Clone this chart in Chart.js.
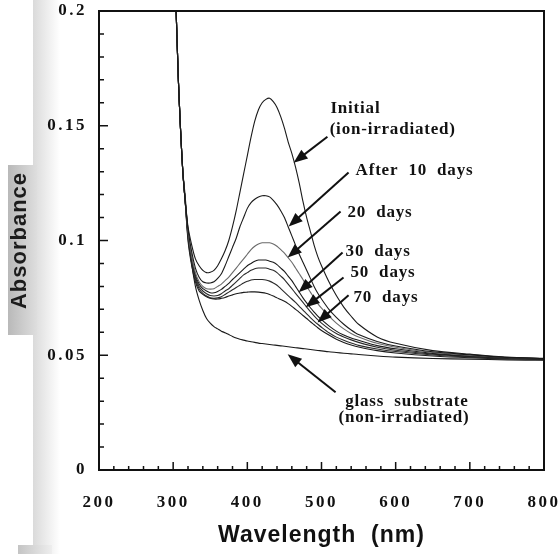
<!DOCTYPE html>
<html><head><meta charset="utf-8">
<script src="https://cdn.jsdelivr.net/npm/chart.js@4"></script>
<style>html,body{margin:0;padding:0;background:#fff;}</style>
</head><body>
<canvas id="c" width="559" height="554"></canvas>
<script>
// ---- data ----
const wavelengths = [302,304,307,310,313,316,320,325,330,335,340,345,350,355,360,365,370,375,380,385,390,395,400,405,410,415,420,425,430,435,440,445,450,455,460,465,470,475,480,485,490,495,500,510,520,530,540,550,575,600,650,700,750,800];

const initialAbs = [0.215,0.2,0.17,0.148,0.13,0.118,0.106,0.098,0.092,0.089,0.087,0.086,0.0862,0.087,0.089,0.092,0.0955,0.100,0.106,0.113,0.121,0.129,0.137,0.145,0.152,0.157,0.160,0.1615,0.162,0.1605,0.158,0.154,0.149,0.143,0.138,0.132,0.125,0.117,0.110,0.104,0.098,0.093,0.089,0.082,0.076,0.071,0.067,0.0635,0.058,0.0552,0.052,0.0505,0.0492,0.0487];
const days10Abs = [0.215,0.2,0.17,0.148,0.13,0.118,0.105,0.095,0.088,0.084,0.082,0.0815,0.0815,0.082,0.0835,0.0855,0.089,0.093,0.097,0.101,0.106,0.110,0.114,0.1165,0.118,0.119,0.1195,0.1195,0.119,0.1175,0.1155,0.113,0.110,0.106,0.102,0.098,0.094,0.0905,0.087,0.0835,0.080,0.077,0.0745,0.070,0.0665,0.0635,0.061,0.059,0.056,0.054,0.0515,0.0502,0.049,0.0486];
const days20Abs = [0.215,0.2,0.17,0.148,0.13,0.118,0.104,0.093,0.086,0.082,0.080,0.079,0.0788,0.079,0.080,0.081,0.0825,0.084,0.086,0.088,0.090,0.092,0.094,0.096,0.0975,0.0985,0.099,0.099,0.099,0.0985,0.0975,0.096,0.0945,0.0925,0.0905,0.088,0.0855,0.083,0.080,0.0775,0.075,0.0725,0.0705,0.067,0.064,0.0615,0.0595,0.058,0.0552,0.0535,0.0512,0.050,0.049,0.0486];
const days30Abs = [0.215,0.2,0.17,0.148,0.13,0.118,0.103,0.092,0.085,0.081,0.079,0.078,0.0772,0.0772,0.0778,0.0787,0.080,0.0813,0.083,0.0845,0.086,0.0875,0.089,0.090,0.091,0.0915,0.0915,0.0915,0.091,0.0905,0.0895,0.088,0.0865,0.0845,0.0825,0.080,0.0775,0.075,0.0728,0.0707,0.0688,0.067,0.0655,0.0628,0.0605,0.0588,0.0575,0.0565,0.0542,0.0528,0.0508,0.0497,0.0489,0.0485];
const days50Abs = [0.215,0.2,0.17,0.148,0.13,0.118,0.102,0.091,0.084,0.080,0.078,0.0768,0.076,0.0758,0.076,0.0768,0.078,0.079,0.0805,0.082,0.0835,0.085,0.086,0.087,0.0877,0.088,0.088,0.088,0.0875,0.087,0.086,0.0845,0.083,0.081,0.079,0.077,0.075,0.073,0.071,0.069,0.0672,0.0655,0.064,0.0615,0.0595,0.058,0.0567,0.0556,0.0535,0.0522,0.0505,0.0494,0.0488,0.0484];
const unlabeledAbs = [0.215,0.2,0.17,0.148,0.13,0.118,0.101,0.090,0.083,0.079,0.077,0.0758,0.075,0.0748,0.075,0.0755,0.0765,0.0775,0.0785,0.0795,0.0805,0.0815,0.0822,0.0828,0.083,0.083,0.083,0.0828,0.0823,0.0815,0.0805,0.079,0.0775,0.076,0.0745,0.073,0.0713,0.0697,0.068,0.0664,0.0649,0.0635,0.0622,0.0598,0.0579,0.0565,0.0553,0.0543,0.0527,0.0516,0.0501,0.0492,0.0486,0.0483];
const days70Abs = [0.215,0.2,0.17,0.148,0.13,0.118,0.100,0.089,0.082,0.078,0.0765,0.0755,0.0748,0.0745,0.0745,0.0748,0.0752,0.0758,0.0763,0.0768,0.0771,0.0774,0.0775,0.0776,0.0776,0.0775,0.0773,0.077,0.0765,0.0758,0.075,0.0743,0.0735,0.0725,0.0713,0.070,0.0687,0.0673,0.066,0.0646,0.0633,0.062,0.0608,0.0588,0.057,0.0556,0.0545,0.0536,0.052,0.051,0.0497,0.0489,0.0484,0.0481];
const glassAbs = [0.215,0.2,0.17,0.148,0.13,0.12,0.104,0.09,0.080,0.074,0.0695,0.066,0.064,0.0625,0.0615,0.0605,0.0598,0.059,0.0582,0.0575,0.057,0.0566,0.0562,0.0559,0.0556,0.0553,0.0551,0.0549,0.0547,0.0545,0.0543,0.0541,0.0539,0.0537,0.0535,0.0533,0.0531,0.0529,0.0527,0.0525,0.0523,0.0521,0.0519,0.0515,0.0512,0.0509,0.0506,0.0503,0.0497,0.0492,0.0486,0.0483,0.048,0.0478];

const xTickLabels = ['200','300','400','500','600','700','800'];
const yTickLabels = ['0','0.05','0.1','0.15','0.2'];

// annotation texts and anchors (data units: wavelength, absorbance)
const noteTexts = ['Initial','(ion-irradiated)','After  10  days','20  days','30  days','50  days','70  days','glass  substrate','(non-irradiated)'];
const noteWl    = [512, 511, 546, 535, 532.5, 539, 543, 532, 523];
const noteAbs   = [0.1574, 0.1483, 0.1304, 0.1122, 0.0952, 0.0861, 0.0752, 0.0300, 0.0230];
const arrowFromWl  = [508, 536.5, 525.7, 528.4, 529.7, 536.5, 519];
const arrowFromAbs = [0.1452, 0.1296, 0.1126, 0.0948, 0.0839, 0.0761, 0.0339];
const arrowToWl    = [462.4, 455.7, 454.4, 469.2, 478.6, 494.7, 454.4];
const arrowToAbs   = [0.1339, 0.1061, 0.0926, 0.0774, 0.0709, 0.0643, 0.0504];

const series = [
  {name:'Initial (ion-irradiated)', values: initialAbs, color:'#1a1a1a'},
  {name:'After 10 days', values: days10Abs, color:'#1a1a1a'},
  {name:'20 days', values: days20Abs, color:'#6a6a6a'},
  {name:'30 days', values: days30Abs, color:'#1a1a1a'},
  {name:'50 days', values: days50Abs, color:'#2a2a2a'},
  {name:'unlabeled', values: unlabeledAbs, color:'#2a2a2a'},
  {name:'70 days', values: days70Abs, color:'#1a1a1a'},
  {name:'glass substrate (non-irradiated)', values: glassAbs, color:'#1a1a1a'}
];

const SERIF = "'Liberation Serif','Times New Roman',serif";
const SANS = "'Liberation Sans',Arial,sans-serif";

function drawArrow(ctx, x1, y1, x2, y2) {
  const a = Math.atan2(y2 - y1, x2 - x1);
  const hl = 14, hw = 5.5;
  ctx.beginPath();
  ctx.moveTo(x1, y1);
  ctx.lineTo(x2 - Math.cos(a) * hl * 0.8, y2 - Math.sin(a) * hl * 0.8);
  ctx.stroke();
  ctx.beginPath();
  ctx.moveTo(x2, y2);
  ctx.lineTo(x2 - hl * Math.cos(a) + hw * Math.sin(a), y2 - hl * Math.sin(a) - hw * Math.cos(a));
  ctx.lineTo(x2 - hl * Math.cos(a) - hw * Math.sin(a), y2 - hl * Math.sin(a) + hw * Math.cos(a));
  ctx.closePath();
  ctx.fill();
}

const decor = {
  id: 'decor',
  beforeDraw(chart) {
    const ctx = chart.ctx;
    ctx.save();
    ctx.fillStyle = '#fff';
    ctx.fillRect(0, 0, chart.width, chart.height);
    let g = ctx.createLinearGradient(33, 0, 60, 0);
    g.addColorStop(0, '#dadada'); g.addColorStop(1, '#ffffff');
    ctx.fillStyle = g; ctx.fillRect(33, 0, 27, chart.height);
    g = ctx.createLinearGradient(8, 0, 37, 0);
    g.addColorStop(0, '#b9b9b9'); g.addColorStop(1, '#dedede');
    ctx.fillStyle = g; ctx.fillRect(8, 165, 29, 170);
    g = ctx.createLinearGradient(18, 0, 52, 0);
    g.addColorStop(0, '#c4c4c4'); g.addColorStop(1, '#eeeeee');
    ctx.fillStyle = g; ctx.fillRect(18, 545, 34, 9);
    ctx.restore();
    ctx.letterSpacing = '1px';
  },
  afterDatasetsDraw(chart) {
    chart.ctx.letterSpacing = '2.5px';
  },
  afterDraw(chart) {
    const ctx = chart.ctx;
    ctx.letterSpacing = '0px';
    const xs = chart.scales.x, ys = chart.scales.y;
    const L = Math.round(xs.getPixelForValue(200)), R = Math.round(xs.getPixelForValue(800));
    const T = Math.round(ys.getPixelForValue(0.2)), B = Math.round(ys.getPixelForValue(0));
    ctx.save();
    ctx.fillStyle = '#111111';
    // plot frame
    ctx.fillRect(L - 1, T - 1, R - L + 2, 2);
    ctx.fillRect(R - 1, T - 1, 2, B - T + 2);
    ctx.fillRect(L - 1, T - 1, 2, B - T + 2);
    ctx.fillRect(L - 1, B - 1, R - L + 2, 2);
    // inward tick marks
    ctx.strokeStyle = '#111111';
    ctx.lineWidth = 1.5;
    ctx.beginPath();
    for (let v = 200; v <= 800; v += 20) {
      const px = xs.getPixelForValue(v);
      const len = (v % 100 === 0) ? 8 : 4;
      ctx.moveTo(px, B); ctx.lineTo(px, B - len);
    }
    for (let k = 0; k <= 20; k++) {
      const py = ys.getPixelForValue(k * 0.01);
      const len = (k % 5 === 0) ? 9 : 5;
      ctx.moveTo(L, py); ctx.lineTo(L + len, py);
    }
    ctx.stroke();

    // annotations
    ctx.font = 'bold 17px ' + SERIF;
    ctx.letterSpacing = '0.8px';
    ctx.textAlign = 'left';
    ctx.textBaseline = 'middle';
    noteTexts.forEach((t, i) => {
      ctx.fillText(t, xs.getPixelForValue(noteWl[i]), ys.getPixelForValue(noteAbs[i]));
    });
    ctx.letterSpacing = '0px';
    ctx.lineWidth = 2;
    arrowFromWl.forEach((w, i) => {
      drawArrow(ctx, xs.getPixelForValue(w), ys.getPixelForValue(arrowFromAbs[i]),
                xs.getPixelForValue(arrowToWl[i]), ys.getPixelForValue(arrowToAbs[i]));
    });
    ctx.restore();
  }
};

new Chart(document.getElementById('c'), {
  type: 'line',
  data: {
    datasets: series.map(s => ({
      label: s.name,
      data: wavelengths.map((w, i) => ({x: w, y: s.values[i]})),
      borderColor: s.color,
      borderWidth: 1.1,
      pointRadius: 0,
      tension: 0.25,
      fill: false
    }))
  },
  options: {
    responsive: false,
    devicePixelRatio: 1,
    animation: false,
    layout: {padding: {top: 11, right: 15, left: 0, bottom: 0}},
    plugins: {legend: {display: false}, tooltip: {enabled: false}},
    scales: {
      x: {
        type: 'linear', min: 200, max: 800,
        grid: {display: false, drawTicks: false},
        border: {display: false},
        ticks: {
          stepSize: 100, padding: 22, autoSkip: false, maxRotation: 0, z: 1,
          color: '#111', font: {family: SERIF, size: 17, weight: 'bold'},
          callback: (v, i) => xTickLabels[i]
        },
        title: {display: true, text: 'Wavelength  (nm)', color: '#111',
          font: {family: SANS, size: 23, weight: 'bold'}, padding: {top: 0, bottom: 5}},
        afterFit: s => { s.height = 84; s.paddingLeft = 0; s.paddingRight = 0; }
      },
      y: {
        min: 0, max: 0.2,
        grid: {display: false, drawTicks: false},
        border: {display: false},
        ticks: {
          stepSize: 0.05, padding: 12, z: 1,
          color: '#111', font: {family: SERIF, size: 17, weight: 'bold'},
          callback: (v, i) => yTickLabels[i]
        },
        title: {display: true, text: 'Absorbance', color: '#1c1c1c',
          font: {family: SANS, size: 22, weight: 'bold'}, padding: {top: 7, bottom: 0}},
        afterFit: s => { s.width = 99; s.paddingTop = 0; s.paddingBottom = 0; }
      }
    }
  },
  plugins: [decor]
});
</script>
</body></html>
